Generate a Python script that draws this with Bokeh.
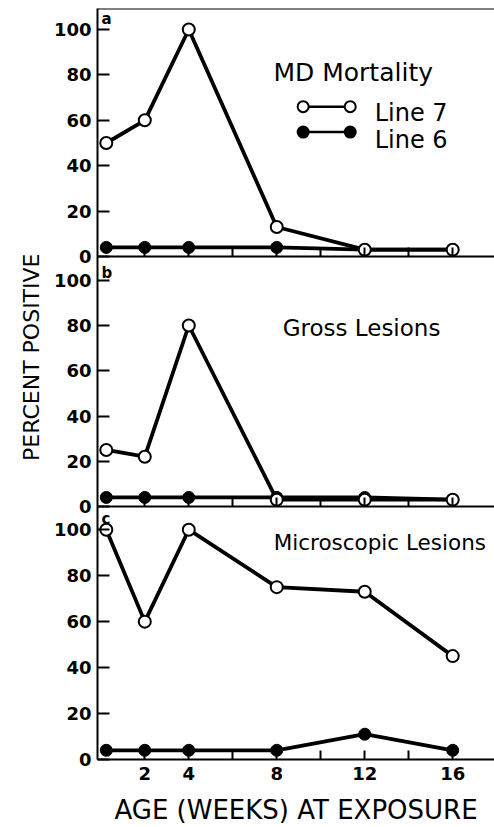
from bokeh.plotting import figure
from bokeh.layouts import column
from bokeh.models import Range1d, FixedTicker, Label, Span, Title
from bokeh.embed import file_html
from bokeh.resources import INLINE

# ---------------- data ----------------
weeks = [0.25, 2, 4, 8, 12, 16]
mortality_line7 = [50, 60, 100, 13, 3, 3]
mortality_line6 = [4, 4, 4, 4, 3, 3]
gross_line7 = [25, 22, 80, 3, 3, 3]
gross_line6 = [4, 4, 4, 4, 4, 3]
micro_line7 = [100, 60, 100, 75, 73, 45]
micro_line6 = [4, 4, 4, 4, 11, 4]

y_ticks = [0, 20, 40, 60, 80, 100]
x_ticks = [2, 4, 8, 12, 16]
x_minor_ticks = [6, 10, 14]
x_all_ticks = [2, 4, 6, 8, 10, 12, 14, 16]
panel_titles = ["MD Mortality", "Gross Lesions", "Microscopic Lesions"]
panel_letters = ["a", "b", "c"]
series_names = ["Line 7", "Line 6"]
x_label = "AGE (WEEKS) AT EXPOSURE"
y_label = "PERCENT POSITIVE"

FONT = "DejaVu Sans"
X_START, X_END = -0.15, 17.9


def make_panel(line7, line6, y_end, height, b_top, b_bottom, m_top, last):
    p = figure(width=494, height=height,
               x_range=Range1d(X_START, X_END), y_range=Range1d(0, y_end),
               output_backend="svg", toolbar_location=None,
               min_border_left=97, min_border_right=0,
               min_border_top=b_top, min_border_bottom=b_bottom,
               background_fill_color=None, border_fill_color=None,
               outline_line_color=None)
    p.margin = (m_top, 0, 0, 0)
    p.grid.visible = False

    ya = p.yaxis[0]
    ya.ticker = FixedTicker(ticks=y_ticks)
    ya.major_tick_in = 12
    ya.major_tick_out = 0
    ya.minor_tick_in = 0
    ya.minor_tick_out = 0
    ya.axis_line_width = 2
    ya.major_tick_line_width = 2
    ya.axis_line_color = "black"
    ya.major_tick_line_color = "black"
    ya.major_label_text_font = FONT
    ya.major_label_text_font_size = "18px"
    ya.major_label_text_font_style = "bold"
    ya.major_label_text_color = "black"
    ya.major_label_standoff = 6

    xa = p.xaxis[0]
    if last:
        xa.ticker = FixedTicker(ticks=x_ticks, minor_ticks=x_minor_ticks)
    else:
        xa.ticker = FixedTicker(ticks=[], minor_ticks=x_all_ticks)
    xa.major_tick_in = 9
    xa.major_tick_out = 0
    xa.minor_tick_in = 9
    xa.minor_tick_out = 0
    xa.axis_line_width = 2
    xa.major_tick_line_width = 2
    xa.minor_tick_line_width = 2
    xa.axis_line_color = "black"
    xa.major_tick_line_color = "black"
    xa.minor_tick_line_color = "black"
    if last:
        xa.major_label_text_font = FONT
        xa.major_label_text_font_size = "18px"
        xa.major_label_text_font_style = "bold"
        xa.major_label_text_color = "black"
        xa.major_label_standoff = 7
        xa.axis_label = x_label
        xa.axis_label_text_font = FONT
        xa.axis_label_text_font_size = "26px"
        xa.axis_label_text_font_style = "normal"
        xa.axis_label_text_color = "black"
        xa.axis_label_standoff = 12
    else:
        xa.major_label_standoff = 0

    p.line(weeks, line6, line_color="black", line_width=3.8)
    p.scatter(weeks, line6, marker="circle", size=12,
              fill_color="black", line_color="black", line_width=1)
    p.line(weeks, line7, line_color="black", line_width=3.8)
    p.scatter(weeks, line7, marker="circle", size=12,
              fill_color="white", line_color="black", line_width=2)
    return p


p_a = make_panel(mortality_line7, mortality_line6, 109.25, 268, 8, 12, 0, False)
p_b = make_panel(gross_line7, gross_line6, 110.5, 286, 24, 12, -36, False)
p_c = make_panel(micro_line7, micro_line6, 110.1, 321, 0, 0, -12, True)

# top border of the first panel
p_a.add_layout(Span(location=109.25, dimension="width", line_color="black", line_width=2))

# panel letters
for p, letter, ly in zip([p_a, p_b, p_c], panel_letters, [104.5, 103, 104.5]):
    p.add_layout(Label(x=X_START, y=ly, x_offset=4, text=letter,
                       text_font=FONT, text_font_size="15px", text_font_style="bold",
                       text_color="black", text_align="left", text_baseline="alphabetic"))

# panel titles
for p, title, tx, ty, fs in zip([p_a, p_b, p_c], panel_titles,
                                [7.85, 8.27, 7.86], [81.1, 78.8, 94.3],
                                ["25px", "23px", "21.5px"]):
    p.add_layout(Label(x=tx, y=ty, text=title, text_font=FONT, text_font_size=fs,
                       text_color="black", text_align="left", text_baseline="alphabetic"))

# legend (panel a)
key_x = [9.2, 11.34]
key_y = [66, 54.8]
label_y = [63, 51.5]
fills = ["white", "black"]
for name, ky, lyy, fc in zip(series_names, key_y, label_y, fills):
    p_a.line(key_x, [ky, ky], line_color="black", line_width=2.5)
    p_a.scatter(key_x, [ky, ky], marker="circle", size=11,
                fill_color=fc, line_color="black", line_width=2)
    p_a.add_layout(Label(x=12.45, y=lyy, text=name, text_font=FONT, text_font_size="24px",
                         text_color="black", text_align="left", text_baseline="alphabetic"))

# shared y-axis title, placed in the left side panel of the middle plot
p_b.add_layout(Title(text=y_label, align="right", offset=-3, standoff=10,
                     vertical_align="top",
                     text_font=FONT, text_font_size="22px", text_font_style="normal",
                     text_color="black"), "left")

layout = column(p_a, p_b, p_c, spacing=0)

open("out.html", "w").write(file_html(layout, INLINE))
